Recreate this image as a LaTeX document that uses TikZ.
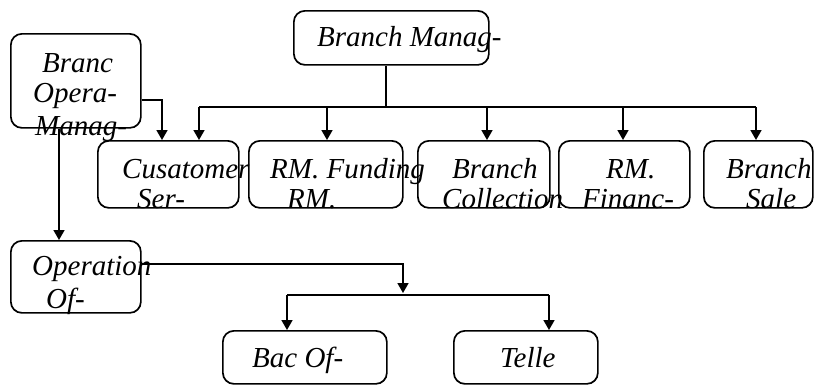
\documentclass[tikz,border=0pt]{standalone}
\usepackage{fontspec}
\setmainfont{Liberation Serif}
\usetikzlibrary{arrows.meta}
\begin{document}
\begin{tikzpicture}[x=1pt,y=-1pt,
 box/.style={draw,line width=1.7pt,rounded corners=11pt,inner sep=0pt,anchor=north west},
 txt/.style={anchor=base west,inner sep=0pt,font=\fontsize{29}{32}\selectfont\itshape},
 ln/.style={line width=1.7pt},
 arr/.style={ln,-{Triangle[length=10pt,width=11pt]}}]
\useasboundingbox (0,0) rectangle (814,384);
% boxes
\node[box,minimum width=195pt,minimum height=54pt] (bm) at (293,10) {};
\node[box,minimum width=130pt,minimum height=94pt] (bom) at (10,33) {};
\node[box,minimum width=141pt,minimum height=67pt] (r1) at (97,140) {};
\node[box,minimum width=154pt,minimum height=67pt] (r2) at (248,140) {};
\node[box,minimum width=132pt,minimum height=67pt] (r3) at (417,140) {};
\node[box,minimum width=131pt,minimum height=67pt] (r4) at (558,140) {};
\node[box,minimum width=109pt,minimum height=67pt] (r5) at (703,140) {};
\node[box,minimum width=130pt,minimum height=72pt] (op) at (10,240) {};
\node[box,minimum width=164pt,minimum height=53pt] (bo) at (222,330) {};
\node[box,minimum width=144pt,minimum height=53pt] (te) at (453,330) {};
% texts
\node[txt] (tbm) at (317,46) {Branch Manag-};
\node[txt] (tbom1) at (42,72) {Branc};
\node[txt] (tbom2) at (33,102) {Opera-};
\node[txt] (tbom3) at (35,135) {Manag-};
\node[txt] (tr1a) at (122,178) {Cusatomer};
\node[txt] (tr1b) at (137,208) {Ser-};
\node[txt] (tr2a) at (270,178) {RM. Funding};
\node[txt] (tr2b) at (287,208) {RM.};
\node[txt] (tr3a) at (452,178) {Branch};
\node[txt] (tr3b) at (442,208) {Collection};
\node[txt] (tr4a) at (606,178) {RM.};
\node[txt] (tr4b) at (582,208) {Financ-};
\node[txt] (tr5a) at (726,178) {Branch};
\node[txt] (tr5b) at (746,208) {Sale};
\node[txt] (top1) at (32,275) {Operation};
\node[txt] (top2) at (46,308) {Of-};
\node[txt] (tbo) at (252,367) {Bac Of-};
\node[txt] (tte) at (500,367) {Telle};
% junction coordinates
\coordinate (trunk) at (386,107);
\coordinate (b1) at (199,107);
\coordinate (b2) at (327,107);
\coordinate (b3) at (487,107);
\coordinate (b4) at (623,107);
\coordinate (b5) at (756,107);
\coordinate (k1) at (162,100);
\coordinate (v1) at (59,0);
\coordinate (k2) at (403,264);
\coordinate (s0) at (403,293);
\coordinate (s1) at (287,295);
\coordinate (s2) at (549,295);
% connectors
\draw[ln] (bm.south -| trunk) -- (trunk);
\draw[ln] (b1) -- (b5);
\draw[arr] (b1) -- (b1 |- r1.north);
\draw[arr] (b2) -- (b2 |- r2.north);
\draw[arr] (b3) -- (b3 |- r3.north);
\draw[arr] (b4) -- (b4 |- r4.north);
\draw[arr] (b5) -- (b5 |- r5.north);
\draw[arr] (bom.east |- k1) -- (k1) -- (k1 |- r1.north);
\draw[arr] (bom.south -| v1) -- (op.north -| v1);
\draw[arr] (op.east |- k2) -- (k2) -- (s0);
\draw[ln] (s1) -- (s2);
\draw[arr] (s1) -- (s1 |- bo.north);
\draw[arr] (s2) -- (s2 |- te.north);
\end{tikzpicture}
\end{document}
